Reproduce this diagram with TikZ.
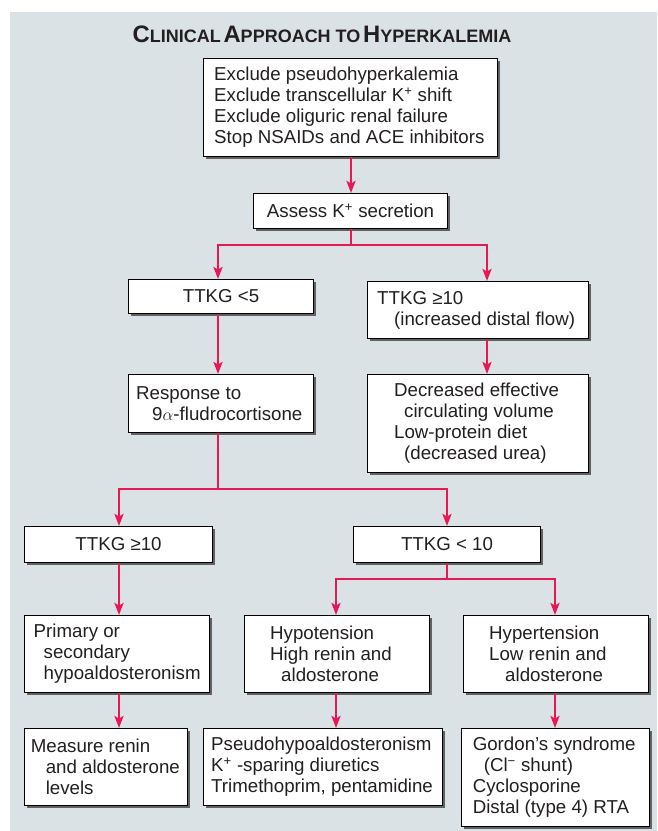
\documentclass[tikz,border=0pt]{standalone}
\usepackage{fontspec}
\setmainfont{Liberation Sans}
\usetikzlibrary{arrows.meta,shadows}
\definecolor{bg}{RGB}{219,226,230}
\definecolor{arr}{RGB}{232,24,84}
\definecolor{ink}{RGB}{35,31,32}
\newcommand\lbox[7]{%
  \node[box, minimum width=#4pt, minimum height=#5pt] (#1) at (#2,#3) {};
  \node[txt, anchor=west] (#1-t) at ([xshift=#6pt]#1.west) {#7};}
\newcommand\cbox[6]{%
  \node[box, txt, align=center, minimum width=#4pt, minimum height=#5pt] (#1) at (#2,#3) {#6};}
\newcommand\BigC[1]{{\fontsize{23.8}{24}\selectfont #1}}
\newcommand\SmC[1]{{\fontsize{18}{18}\selectfont #1}}
\begin{document}
\begin{tikzpicture}[x=1pt,y=-1pt,
  box/.style={draw=black, line width=1.1pt, fill=white, rectangle, anchor=north west,
    inner sep=0pt,
    drop shadow={shadow xshift=2.5pt, shadow yshift=-2.5pt, fill=black!62, opacity=1}},
  txt/.style={inner sep=0pt, align=left, text=ink, font=\fontsize{18.7}{21}\selectfont},
  conn/.style={draw=arr, line width=2.3pt},
  arrow/.style={conn, -{Stealth[length=12pt,width=9pt,inset=2.5pt]}},
  darrow/.style={conn, {Stealth[length=12pt,width=9pt,inset=2.5pt]}-{Stealth[length=12pt,width=9pt,inset=2.5pt]}}
]
\useasboundingbox (0,0) rectangle (657,831);
\fill[bg] (10,12) rectangle (657,831);

\node[text=ink, font=\bfseries, inner sep=0pt] (title) at (322,34)
  {\BigC{C}\SmC{LINICAL} \BigC{A}\SmC{PPROACH TO} \BigC{H}\SmC{YPERKALEMIA}};

\lbox{b1}{203}{58}{294}{98}{11}{Exclude pseudohyperkalemia\\Exclude transcellular K\textsuperscript{+} shift\\Exclude oliguric renal failure\\Stop NSAIDs and ACE inhibitors}
\cbox{b2}{253}{193}{194}{35}{Assess K\textsuperscript{+} secretion}
\cbox{t5}{128}{279}{185}{34}{TTKG <5}
\lbox{t10}{367}{281}{221}{57}{10}{TTKG ≥10\\\hspace*{17pt}(increased distal flow)}
\lbox{resp}{128}{374}{185}{58}{8}{Response to\\\hspace*{16pt}9$\alpha$-fludrocortisone}
\lbox{dec}{367}{374}{221}{98}{27}{Decreased effective\\\hspace*{10pt}circulating volume\\Low-protein diet\\\hspace*{10pt}(decreased urea)}
\cbox{r10}{24}{526}{188}{36}{TTKG ≥10}
\cbox{rl10}{353}{526}{187}{36}{TTKG < 10}
\lbox{prim}{24}{615}{185}{77}{9.5}{Primary or\\\hspace*{10pt}secondary\\\hspace*{10pt}hypoaldosteronism}
\lbox{hypo}{244}{615}{185}{77}{26}{Hypotension\\High renin and\\\hspace*{11pt}aldosterone}
\lbox{hyper}{463}{615}{185}{77}{26}{Hypertension\\Low renin and\\\hspace*{16pt}aldosterone}
\lbox{meas}{24}{728}{163}{77}{6.6}{Measure renin\\\hspace*{15pt}and aldosterone\\\hspace*{15pt}levels}
\lbox{pseudo}{203}{728}{239}{77}{8}{Pseudohypoaldosteronism\\K\textsuperscript{+} -sparing diuretics\\Trimethoprim, pentamidine}
\lbox{gord}{461}{728}{188}{98}{11.6}{Gordon's syndrome\\\hspace*{11pt}(Cl\textsuperscript{−} shunt)\\Cyclosporine\\Distal (type 4) RTA}

\coordinate (cA) at (351,0);
\coordinate (cB) at (218,0);
\coordinate (cC) at (487,0);
\coordinate (cD) at (119,0);
\coordinate (cE) at (447,0);
\coordinate (cF) at (336,0);
\coordinate (cG) at (555,0);
\coordinate (h1) at (0,245);
\coordinate (h2) at (0,489);
\coordinate (h3) at (0,579);

\draw[arrow] (cA |- b1.south) -- (cA |- b2.north);
\draw[conn] (cA |- b2.south) -- (cA |- h1);
\draw[darrow] (cB |- t5.north) |- (cC |- h1) -- (cC |- t10.north);
\draw[arrow] (cB |- t5.south) -- (cB |- resp.north);
\draw[arrow] (cC |- t10.south) -- (cC |- dec.north);
\draw[conn] (cB |- resp.south) -- (cB |- h2);
\draw[darrow] (cD |- r10.north) |- (cE |- h2) -- (cE |- rl10.north);
\draw[arrow] (cD |- r10.south) -- (cD |- prim.north);
\draw[conn] (cE |- rl10.south) -- (cE |- h3);
\draw[darrow] (cF |- hypo.north) |- (cG |- h3) -- (cG |- hyper.north);
\draw[arrow] (cD |- prim.south) -- (cD |- meas.north);
\draw[arrow] (cF |- hypo.south) -- (cF |- pseudo.north);
\draw[arrow] (cG |- hyper.south) -- (cG |- gord.north);
\end{tikzpicture}
\end{document}
